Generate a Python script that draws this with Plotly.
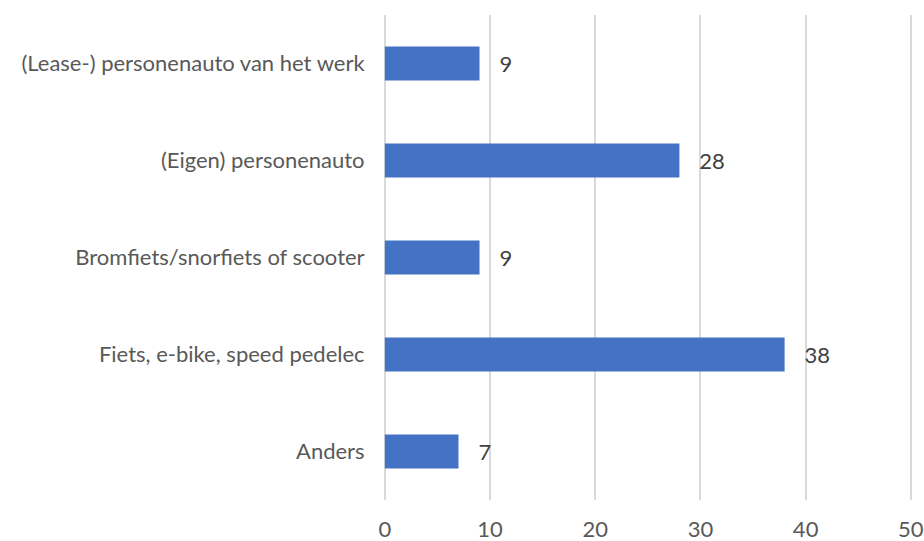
import plotly.graph_objects as go

categories = ["Anders", "Fiets, e-bike, speed pedelec", "Bromfiets/snorfiets of scooter",
              "(Eigen) personenauto", "(Lease-) personenauto van het werk"]
values = [7, 38, 9, 28, 9]
tick_vals = [0, 10, 20, 30, 40, 50]

fig = go.Figure(go.Bar(
    x=values, y=categories, orientation="h",
    marker=dict(color="#4472C4", line=dict(width=0)),
    text=["   " + str(v) for v in values], textposition="outside",
    textfont=dict(color="#404040", size=22, family="Lato"),
    cliponaxis=False,
))
fig.update_layout(
    width=924, height=541,
    margin=dict(l=384, r=10, t=15, b=41),
    plot_bgcolor="white", paper_bgcolor="white",
    bargap=0.65, showlegend=False,
    font=dict(family="Lato", size=22, color="#595959"),
    xaxis=dict(range=[-0.08, 50.3], tickvals=tick_vals, showgrid=True, gridcolor="#D9D9D9",
               gridwidth=1.5, zeroline=True, zerolinecolor="#D9D9D9", zerolinewidth=1.5,
               showline=False, automargin=False,
               ticks="outside", ticklen=10, tickcolor="rgba(0,0,0,0)"),
    yaxis=dict(showgrid=False, zeroline=False, showline=False, automargin=False,
               ticks="outside", ticklen=14, tickcolor="rgba(0,0,0,0)"),
)
fig.write_html("out.html", config={"displayModeBar": False},
               post_script="document.body.style.margin='0';document.body.style.overflow='hidden';")
